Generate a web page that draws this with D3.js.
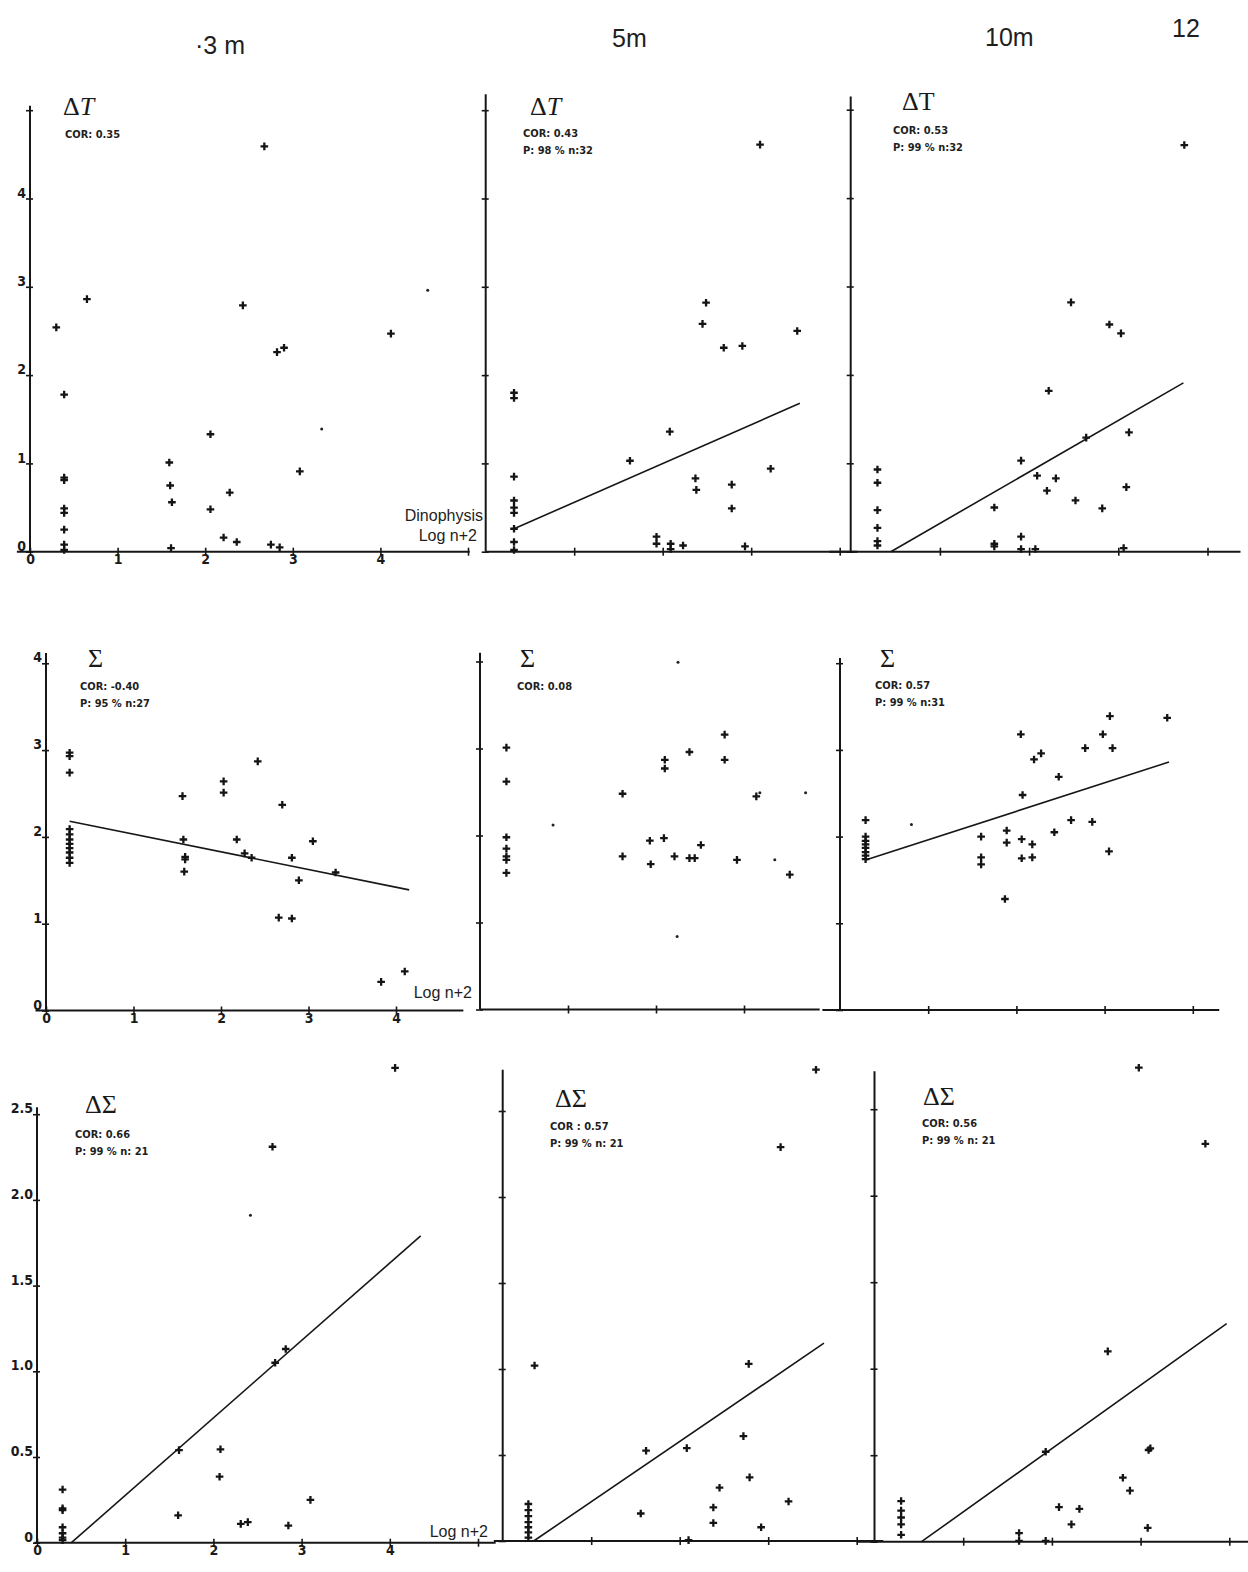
<!DOCTYPE html>
<html>
<head>
<meta charset="utf-8">
<script src="https://cdn.jsdelivr.net/npm/d3@7"></script>
<style>
  body { margin: 0; background: #fff; }
  svg { display: block; }
  .axis-line { stroke: #161616; stroke-width: 2; }
  .tick line { stroke: #161616; stroke-width: 1.6; }
  .pt { stroke: #141414; stroke-width: 2.3; fill: none; }
  .dot { fill: #222; }
  .fit { stroke: #161616; stroke-width: 1.6; fill: none; }
  .sym { font-family: "Liberation Serif", "DejaVu Serif", serif; font-size: 26px; fill: #1a1a1a; }
  .note { font-family: "DejaVu Sans Condensed", "DejaVu Sans", sans-serif; font-weight: bold; font-size: 11px; fill: #1f1f1f; }
  .head { font-family: "Liberation Sans", Arial, sans-serif; font-size: 25px; fill: #1e1e1e; }
  .axlab { font-family: "Liberation Sans", Arial, sans-serif; font-size: 16px; fill: #1e1e1e; }
</style>
</head>
<body>
<svg id="chart" width="1248" height="1572"></svg>
<script>
// column headers (sampling depth) and page number
const depths = ['·3 m', '5m', '10m'];
const pageNo = '12';

// tick labels
const intLabels = ['0', '1', '2', '3', '4'];
const halfLabels = ['0', '0.5', '1.0', '1.5', '2.0', '2.5'];

// ΔT against Dinophysis (log n+2)
const dT_3m = [[0.30,2.54],[0.65,2.86],[0.39,1.78],[0.39,0.84],[0.39,0.81],[0.39,0.49],[0.39,0.44],[0.39,0.25],[0.39,0.08],[0.39,0.02],
  [1.59,1.01],[1.60,0.75],[1.62,0.56],[1.61,0.04],[2.06,1.33],[2.06,0.48],[2.28,0.67],[2.21,0.16],[2.36,0.11],
  [2.43,2.79],[2.675,4.59],[2.82,2.26],[2.90,2.31],[2.75,0.08],[2.85,0.05],[3.08,0.91],[4.12,2.47]];
const dT_3m_dots = [[3.33,1.39],[4.54,2.96]];
const dT_5m = [[0.32,1.80],[0.32,1.74],[0.32,0.85],[0.32,0.58],[0.32,0.50],[0.32,0.44],[0.32,0.26],[0.32,0.11],[0.32,0.02],
  [1.63,1.03],[1.93,0.17],[1.93,0.09],[2.08,1.36],[2.09,0.09],[2.09,0.03],[2.23,0.07],[2.37,0.83],[2.38,0.70],
  [2.45,2.58],[2.49,2.82],[2.69,2.31],[2.78,0.76],[2.78,0.49],[2.90,2.33],[2.93,0.06],[3.10,4.61],[3.22,0.94],[3.52,2.50]];
const dT_5m_fit = [[0.32,0.26],[3.55,1.68]];
const dT_10m = [[0.30,0.93],[0.30,0.78],[0.30,0.47],[0.30,0.27],[0.30,0.12],[0.30,0.07],
  [1.61,0.50],[1.61,0.09],[1.61,0.06],[1.91,1.03],[1.91,0.17],[1.91,0.03],[2.07,0.03],[2.09,0.86],[2.20,0.69],
  [2.22,1.82],[2.30,0.83],[2.47,2.82],[2.52,0.58],[2.64,1.29],[2.82,0.49],[2.90,2.57],[3.03,2.47],[3.06,0.04],
  [3.09,0.73],[3.12,1.35],[3.74,4.60]];
const dT_10m_fit = [[0.45,0],[3.73,1.91]];

// Σ against Dinophysis
const sig_3m = [[0.27,2.97],[0.27,2.93],[0.27,2.74],[0.27,2.09],[0.27,2.03],[0.27,1.97],[0.27,1.92],[0.27,1.87],[0.27,1.82],[0.27,1.76],[0.27,1.70],
  [1.56,2.47],[1.57,1.97],[1.59,1.77],[1.59,1.74],[1.58,1.60],[2.03,2.64],[2.03,2.51],[2.18,1.97],[2.27,1.81],[2.35,1.76],
  [2.42,2.87],[2.66,1.07],[2.70,2.37],[2.81,1.76],[2.81,1.06],[2.89,1.50],[3.05,1.95],[3.31,1.59],[3.83,0.33],[4.10,0.45]];
const sig_3m_fit = [[0.27,2.18],[4.15,1.39]];
const sig_5m = [[0.30,3.01],[0.30,2.62],[0.30,1.98],[0.30,1.85],[0.30,1.76],[0.30,1.72],[0.30,1.57],
  [1.62,2.48],[1.62,1.76],[1.93,1.94],[1.94,1.67],[2.09,1.97],[2.10,2.87],[2.10,2.77],[2.21,1.76],[2.38,2.96],
  [2.38,1.74],[2.44,1.74],[2.51,1.89],[2.78,3.16],[2.78,2.87],[2.92,1.72],[3.14,2.45],[3.52,1.55]];
const sig_5m_dots = [[0.83,2.12],[2.24,0.84],[3.35,1.72],[3.18,2.49],[3.70,2.49],[2.25,3.99]];
const sig_10m = [[0.29,2.19],[0.29,2.00],[0.29,1.95],[0.29,1.91],[0.29,1.87],[0.29,1.82],[0.29,1.78],[0.29,1.74],
  [1.60,2.00],[1.60,1.76],[1.60,1.68],[1.87,1.28],[1.89,2.07],[1.89,1.93],[2.05,3.18],[2.06,1.97],[2.06,1.75],
  [2.07,2.48],[2.18,1.91],[2.18,1.76],[2.20,2.89],[2.28,2.96],[2.43,2.05],[2.48,2.69],[2.62,2.19],[2.78,3.02],
  [2.86,2.17],[2.98,3.18],[3.05,1.83],[3.06,3.39],[3.09,3.02],[3.71,3.37]];
const sig_10m_fit = [[0.29,1.73],[3.73,2.86]];
const sig_10m_dots = [[0.81,2.14]];

// ΔΣ against Dinophysis
const dSig_3m = [[0.29,0.31],[0.29,0.20],[0.29,0.19],[0.29,0.09],[0.29,0.055],[0.29,0.03],[0.29,0.015],
  [1.60,0.16],[1.61,0.54],[2.07,0.385],[2.08,0.545],[2.31,0.11],[2.39,0.12],[2.67,2.31],[2.70,1.05],
  [2.82,1.13],[2.85,0.10],[3.10,0.25],[4.06,2.77]];
const dSig_3m_fit = [[0.39,0],[4.35,1.79]];
const dSig_3m_dots = [[2.42,1.91]];
const dSig_5m = [[0.29,0.215],[0.29,0.18],[0.29,0.145],[0.29,0.11],[0.29,0.08],[0.29,0.05],[0.29,0.02],
  [0.36,1.02],[1.56,0.16],[1.62,0.525],[2.08,0.54],[2.10,0.005],[2.38,0.195],[2.38,0.105],[2.45,0.31],
  [2.72,0.61],[2.78,1.03],[2.79,0.37],[2.92,0.08],[3.14,2.29],[3.23,0.23],[3.54,2.74]];
const dSig_5m_fit = [[0.35,0],[3.63,1.15]];
const dSig_10m = [[0.30,0.235],[0.30,0.18],[0.30,0.14],[0.30,0.10],[0.30,0.04],
  [1.63,0.05],[1.63,0.005],[1.93,0.52],[1.93,0.005],[2.08,0.20],[2.22,0.10],[2.31,0.19],[2.63,1.10],
  [2.80,0.37],[2.88,0.295],[2.98,2.74],[3.08,0.08],[3.09,0.53],[3.11,0.54],[3.73,2.30]];
const dSig_10m_fit = [[0.53,0],[3.97,1.26]];

// statistics printed in each panel
const stats = [
  ['COR: 0.35'], ['COR: 0.43', 'P: 98 % n:32'], ['COR: 0.53', 'P: 99 % n:32'],
  ['COR: -0.40', 'P: 95 % n:27'], ['COR: 0.08'], ['COR: 0.57', 'P: 99 % n:31'],
  ['COR: 0.66', 'P: 99 % n: 21'], ['COR : 0.57', 'P: 99 % n: 21'], ['COR: 0.56', 'P: 99 % n: 21']
];
// panel symbol: [prefix, variable, variable in italics]
const symbols = [['Δ','T',true], ['Δ','T',true], ['Δ','T',false], ['','Σ',false], ['','Σ',false], ['','Σ',false],
                 ['Δ','Σ',false], ['Δ','Σ',false], ['Δ','Σ',false]];

// panel layout: origin (px), px per unit, axis extents (data units), ticks
const panels = [
  { data: dT_3m, dots: dT_3m_dots, ox: 30, sx: 87.6, oy: 551.7, sy: 88.3, xl: [-0.15, 5.02], yl: [0, 5.05],
    xt: [0,1,2,3,4,5], yt: [0,1,2,3,4,5], xLab: intLabels, yLab: intLabels, sym: [63, 115], note: [65, 138] },
  { data: dT_5m, fit: dT_5m_fit, ox: 485.7, sx: 88.5, oy: 551.7, sy: 88.3, xl: [0, 4.2], yl: [0, 5.18],
    xt: [1,2,3,4], yt: [0,1,2,3,4,5], sym: [530, 115], note: [523, 137] },
  { data: dT_10m, fit: dT_10m_fit, ox: 850.7, sx: 89.2, oy: 551.7, sy: 88.4, xl: [-0.24, 4.37], yl: [0, 5.15],
    xt: [1,2,3,4], yt: [0,1,2,3,4,5], sym: [902, 110], note: [893, 134] },
  { data: sig_3m, fit: sig_3m_fit, ox: 46, sx: 87.5, oy: 1010.5, sy: 86.8, xl: [-0.12, 4.77], yl: [0, 4.12],
    xt: [0,1,2,3,4], yt: [0,1,2,3,4], xLab: intLabels, yLab: intLabels, sym: [88, 667], note: [80, 690] },
  { data: sig_5m, dots: sig_5m_dots, ox: 480, sx: 88, oy: 1009.5, sy: 87, xl: [0, 3.86], yl: [0, 4.1],
    xt: [1,2,3], yt: [0,1,2,3,4], sym: [520, 667], note: [517, 690] },
  { data: sig_10m, fit: sig_10m_fit, dots: sig_10m_dots, ox: 840, sx: 88.2, oy: 1010, sy: 86.7, xl: [-0.2, 4.3], yl: [0, 4.06],
    xt: [1,2,3,4], yt: [0,1,2,3,4], sym: [880, 667], note: [875, 689] },
  { data: dSig_3m, fit: dSig_3m_fit, dots: dSig_3m_dots, ox: 37, sx: 88.2, oy: 1542.7, sy: 171.4, xl: [-0.03, 5.2], yl: [0, 2.54],
    xt: [0,1,2,3,4,5], yt: [0,0.5,1,1.5,2,2.5], xLab: intLabels, yLab: halfLabels, sym: [85, 1113], note: [75, 1138] },
  { data: dSig_5m, fit: dSig_5m_fit, ox: 502.7, sx: 88.5, oy: 1541, sy: 172, xl: [-0.1, 4.3], yl: [0, 2.74],
    xt: [1,2,3,4], yt: [0,0.5,1,1.5,2,2.5], sym: [555, 1107], note: [550, 1130] },
  { data: dSig_10m, fit: dSig_10m_fit, ox: 874.5, sx: 88.7, oy: 1541.7, sy: 173, xl: [-0.2, 4.22], yl: [0, 2.72],
    xt: [1,2,3,4], yt: [0,0.5,1,1.5,2,2.5], sym: [923, 1105], note: [922, 1127] }
];

const svg = d3.select('#chart');
svg.append('rect').attr('width', 1248).attr('height', 1572).attr('fill', '#fff');

// headers
const headPos = [[195, 54], [612, 47], [985, 46]];
svg.selectAll('.head-depth')
   .data(depths)
   .join('text')
   .attr('class', 'head')
   .attr('x', (d, i) => headPos[i][0])
   .attr('y', (d, i) => headPos[i][1])
   .text(d => d);
svg.append('text').attr('class', 'head').attr('x', 1172).attr('y', 37).text(pageNo);

function styleTickText(sel) {
  sel.style('font-family', '"DejaVu Sans Condensed", "DejaVu Sans", sans-serif')
     .style('font-size', '14px')
     .style('font-weight', 'bold')
     .style('fill', '#1a1a1a');
}

panels.forEach(function(p, idx) {
  const x = d3.scaleLinear().domain([0, 1]).range([p.ox, p.ox + p.sx]);
  const y = d3.scaleLinear().domain([0, 1]).range([p.oy, p.oy - p.sy]);
  const g = svg.append('g').attr('class', 'panel');

  // axis lines
  g.append('line').attr('class', 'axis-line')
   .attr('x1', x(p.xl[0])).attr('x2', x(p.xl[1]))
   .attr('y1', y(0)).attr('y2', y(0));
  g.append('line').attr('class', 'axis-line')
   .attr('x1', x(0)).attr('x2', x(0))
   .attr('y1', y(p.yl[0])).attr('y2', y(p.yl[1]));

  // x ticks (crossing the line)
  const gx = g.append('g')
              .attr('transform', `translate(0,${y(0)})`)
              .call(d3.axisBottom(x).tickValues(p.xt).tickSize(4)
                      .tickFormat((d, i) => p.xLab ? (p.xLab[i] || '') : ''));
  gx.select('.domain').remove();
  gx.selectAll('.tick line').attr('y1', -4).attr('y2', 4);
  gx.selectAll('.tick text').attr('y', 2).attr('dy', '0.76em').call(styleTickText);

  // y ticks
  const gy = g.append('g')
              .attr('transform', `translate(${x(0)},0)`)
              .call(d3.axisLeft(y).tickValues(p.yt).tickSize(4)
                      .tickFormat((d, i) => p.yLab ? (p.yLab[i] || '') : ''));
  gy.select('.domain').remove();
  gy.selectAll('.tick line').attr('x1', -4).attr('x2', 3);
  gy.selectAll('.tick text').attr('x', -4).attr('dy', '-0.1em').call(styleTickText);

  // regression line
  if (p.fit) {
    g.append('path').attr('class', 'fit')
     .attr('d', d3.line().x(d => x(d[0])).y(d => y(d[1]))(p.fit));
  }

  // observations
  g.selectAll('.pt')
   .data(p.data)
   .join('path')
   .attr('class', 'pt')
   .attr('d', 'M-3.8,0H3.8M0,-3.8V3.8')
   .attr('transform', d => `translate(${x(d[0])},${y(d[1])})`);

  if (p.dots) {
    g.selectAll('.dot')
     .data(p.dots)
     .join('circle')
     .attr('class', 'dot')
     .attr('r', 1.5)
     .attr('cx', d => x(d[0]))
     .attr('cy', d => y(d[1]));
  }

  // panel symbol and statistics
  const s = symbols[idx];
  const st = g.append('text').attr('class', 'sym').attr('x', p.sym[0]).attr('y', p.sym[1]);
  st.append('tspan').text(s[0]);
  st.append('tspan').attr('font-style', s[2] ? 'italic' : 'normal').text(s[1]);

  g.selectAll('.note')
   .data(stats[idx])
   .join('text')
   .attr('class', 'note')
   .attr('x', p.note[0])
   .attr('y', (d, i) => p.note[1] + i * 17)
   .text(d => d);
});

// axis captions
const caption = [
  { t: 'Dinophysis', x: 483, y: 521 },
  { t: 'Log n+2', x: 477, y: 541 },
  { t: 'Log n+2', x: 472, y: 998 },
  { t: 'Log n+2', x: 488, y: 1537 }
];
svg.selectAll('.axlab')
   .data(caption)
   .join('text')
   .attr('class', 'axlab')
   .attr('text-anchor', 'end')
   .attr('x', d => d.x)
   .attr('y', d => d.y)
   .text(d => d.t);
</script>
</body>
</html>
